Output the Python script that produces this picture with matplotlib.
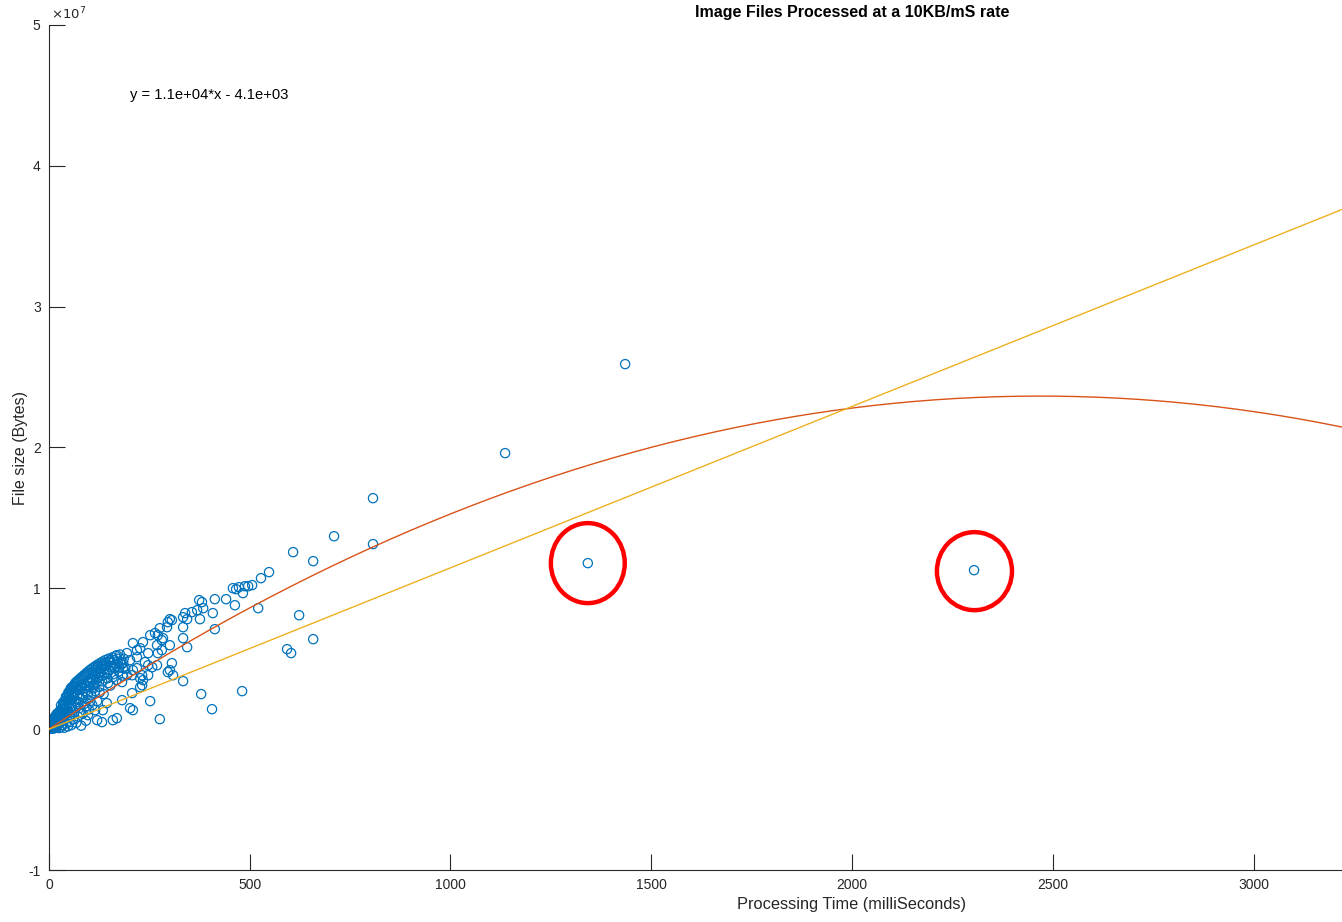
import numpy as np
from matplotlib import pyplot as plt
from matplotlib.patches import Ellipse

plt.rcParams['font.family'] = ['Liberation Sans', 'DejaVu Sans']
plt.rcParams['axes.unicode_minus'] = False

# temps de traitement (ms) et taille des fichiers (en unités de 1e7 octets)
time_ms = [
    # points isolés
    1435, 1136, 807, 807, 710, 608, 658, 548, 1342, 2304,
    528, 506, 496, 488, 473, 466, 458, 483, 463, 441,
    413, 381, 374, 521, 408, 384, 369, 356, 339, 334,
    376, 344, 306, 296, 413, 334, 334, 344, 276, 271,
    284, 301, 281, 271, 623, 658, 593, 603, 481, 306,
    296, 334, 379, 406, 252, 276, 209, 227, 234, 247,
    257, 239, 219, 209, 227, 301, 294, 264, 252, 281,
    269, 234, 209, 227, 247, 219, 194, 202, 169, 177,
    152, 139, 164, 184, 219, 247, 232, 207, 159, 127,
    120, 182, 232, 301, 309, 269, 147, 110, 202, 169,
    159, 132, 120, 97, 134, 115, 144, 182, 207, 194,
    # amas près de l'origine
    1, 2, 3, 4, 5, 6, 7, 8, 9, 10, 11, 12, 13, 14, 15, 16, 17, 18, 19, 20,
    21, 22, 23, 24, 25, 26, 27, 28, 29, 30,
    31, 32, 33, 34, 35, 36, 37, 38, 39, 40, 41, 42, 43, 44, 45, 46, 47, 48,
    49, 50, 51, 52, 53, 54, 55, 56, 57, 58, 59, 60,
    62, 63, 64, 66, 67, 68, 70, 71, 72, 74, 75, 76, 78, 79, 80, 82, 83, 84,
    86, 87, 88, 90, 91, 92, 94, 95, 96, 98, 99, 100,
    102, 104, 105, 107, 108, 110, 112, 113, 115, 117, 118, 120, 122, 124, 125,
    128, 130, 132, 134, 136, 138, 140, 143, 145, 148, 150, 153, 156, 158, 160,
    163, 166, 168, 171, 174, 177, 180, 183, 186, 190,
    4, 7, 10, 12, 15, 18, 20, 22, 25, 27, 30, 32, 35, 36, 38, 40, 42, 44,
    46, 48, 50, 52, 54, 55, 57, 60, 61, 63, 65, 66, 68, 70, 72, 73, 75, 77,
    79, 81, 83, 85, 87, 89, 91, 93, 95, 97, 99, 101, 103, 106, 108, 111,
    114, 116, 119, 121, 123, 126, 129, 131, 135, 137, 141, 146, 151, 155,
    161, 165, 170, 175, 185,
]
size_e7 = [
    2.592, 1.960, 1.640, 1.314, 1.370, 1.257, 1.193, 1.115, 1.179, 1.129,
    1.072, 1.023, 1.015, 1.015, 1.008, 0.994, 1.001, 0.966, 0.880, 0.923,
    0.923, 0.902, 0.916, 0.859, 0.824, 0.859, 0.845, 0.831, 0.824, 0.795,
    0.781, 0.781, 0.774, 0.760, 0.710, 0.724, 0.646, 0.582, 0.717, 0.667,
    0.646, 0.596, 0.561, 0.540, 0.809, 0.639, 0.568, 0.540, 0.270, 0.469,
    0.405, 0.341, 0.249, 0.142, 0.199, 0.071, 0.135, 0.298, 0.348, 0.383,
    0.440, 0.476, 0.561, 0.419, 0.362, 0.781, 0.724, 0.682, 0.667, 0.632,
    0.596, 0.618, 0.611, 0.575, 0.540, 0.511, 0.540, 0.490, 0.525, 0.476,
    0.490, 0.454, 0.433, 0.433, 0.433, 0.454, 0.383, 0.383, 0.369, 0.405,
    0.362, 0.334, 0.312, 0.419, 0.383, 0.454, 0.327, 0.312, 0.149, 0.078,
    0.064, 0.050, 0.064, 0.099, 0.135, 0.135, 0.185, 0.206, 0.256, 0.383,
    0.002, 0.005, 0.010, 0.004, 0.015, 0.008, 0.020, 0.003, 0.030, 0.012,
    0.040, 0.022, 0.006, 0.050, 0.030, 0.065, 0.012, 0.045, 0.080, 0.020,
    0.060, 0.095, 0.035, 0.110, 0.008, 0.075, 0.130, 0.050, 0.100, 0.015,
    0.140, 0.085, 0.030, 0.160, 0.120, 0.060, 0.180, 0.010, 0.105, 0.200,
    0.150, 0.040, 0.220, 0.075, 0.170, 0.240, 0.020, 0.130,
    0.250, 0.190, 0.050, 0.270, 0.100, 0.210, 0.280, 0.030, 0.160, 0.300,
    0.230, 0.070,
    0.310, 0.120, 0.260, 0.330, 0.190, 0.045, 0.340, 0.280, 0.090, 0.350,
    0.220, 0.150, 0.360, 0.300, 0.025, 0.370, 0.250, 0.110,
    0.380, 0.320, 0.180, 0.390, 0.270, 0.060, 0.400, 0.340, 0.210, 0.410,
    0.140, 0.300,
    0.420, 0.360, 0.240, 0.430, 0.170, 0.390, 0.440, 0.320, 0.270, 0.450,
    0.410, 0.200, 0.460, 0.370, 0.300,
    0.470, 0.430, 0.340, 0.480, 0.250, 0.400, 0.490, 0.450, 0.360, 0.500,
    0.420, 0.310, 0.470, 0.510, 0.390,
    0.440, 0.520, 0.350, 0.480, 0.410, 0.530, 0.460, 0.380, 0.500, 0.430,
    0.025, 0.045, 0.060, 0.075, 0.090, 0.100, 0.110, 0.050, 0.120, 0.090,
    0.170, 0.110, 0.190, 0.140, 0.090, 0.170, 0.230, 0.120,
    0.200, 0.260, 0.220, 0.150, 0.290, 0.250, 0.210, 0.300, 0.270, 0.200,
    0.320, 0.150, 0.300, 0.240, 0.330, 0.180, 0.340, 0.280,
    0.120, 0.350, 0.310, 0.230, 0.370, 0.290, 0.160, 0.380, 0.310, 0.250,
    0.390, 0.330, 0.200, 0.400, 0.350, 0.290,
    0.420, 0.370, 0.330, 0.440, 0.400, 0.260, 0.450, 0.380, 0.460, 0.430,
    0.470, 0.400, 0.480, 0.440,
    0.490, 0.460, 0.500, 0.440, 0.470,
]

# coefficients des ajustements (octets en fonction des ms)
quad_coeffs = [-3.883, 19166.0, 0.0]
lin_coeffs = [1.146e4, -4.1e3]
fit_label = 'y = 1.1e+04*x - 4.1e+03'

# cercles rouges ajoutés sur la capture (centre x, centre y, largeur, hauteur)
circles = [(1342, 1.179e7, 184, 0.568e7), (2305, 1.122e7, 187, 0.554e7)]

x = np.array(time_ms, dtype=float)
y = np.array(size_e7) * 1e7

fig = plt.figure(figsize=(13.42, 9.22), dpi=100)
ax = fig.add_axes([49/1342, 52/922, 1606/1342, 845/922])

ax.scatter(x, y, s=44, facecolors='none', edgecolors='#0072BD', linewidths=0.9, zorder=2)

xx = np.linspace(0, 4000, 400)
ax.plot(xx, np.polyval(quad_coeffs, xx), color='#D95319', lw=1.0, zorder=3)
ax.plot(xx, np.polyval(lin_coeffs, xx), color='#EDB120', lw=1.0, zorder=3)

ax.text(201, 4.5e7, fit_label, fontsize=10.6, va='center', ha='left', color='black')

for cx, cy, w, h in circles:
    ax.add_patch(Ellipse((cx, cy), w, h, fill=False, edgecolor='#FF0000', lw=3.2, clip_on=False, zorder=5))

ax.set_xlim(0, 4000)
ax.set_ylim(-1e7, 5e7)
ax.set_xticks(np.arange(0, 3001, 500))
ax.set_yticks(np.arange(-1e7, 5.1e7, 1e7))
ax.set_yticklabels([str(v) for v in range(-1, 6)])

for s in ['top', 'right']:
    ax.spines[s].set_visible(False)
for s in ['left', 'bottom']:
    ax.spines[s].set_color('#262626')
    ax.spines[s].set_linewidth(0.8)
ax.tick_params(direction='in', length=11.5, width=0.8, colors='#262626', labelsize=10, pad=6)

ax.text(0.001, 1.003, r'$\times10^{7}$', transform=ax.transAxes, fontsize=9.5, va='bottom', ha='left', color='#262626')

ax.set_title('Image Files Processed at a 10KB/mS rate', fontsize=11.5, fontweight='bold', pad=6)
ax.set_xlabel('Processing Time (milliSeconds)', fontsize=11.8, color='#262626', labelpad=3)
ax.set_ylabel('File size (Bytes)', fontsize=11.5, color='#262626', labelpad=0)

plt.savefig('out.png', dpi=100)
